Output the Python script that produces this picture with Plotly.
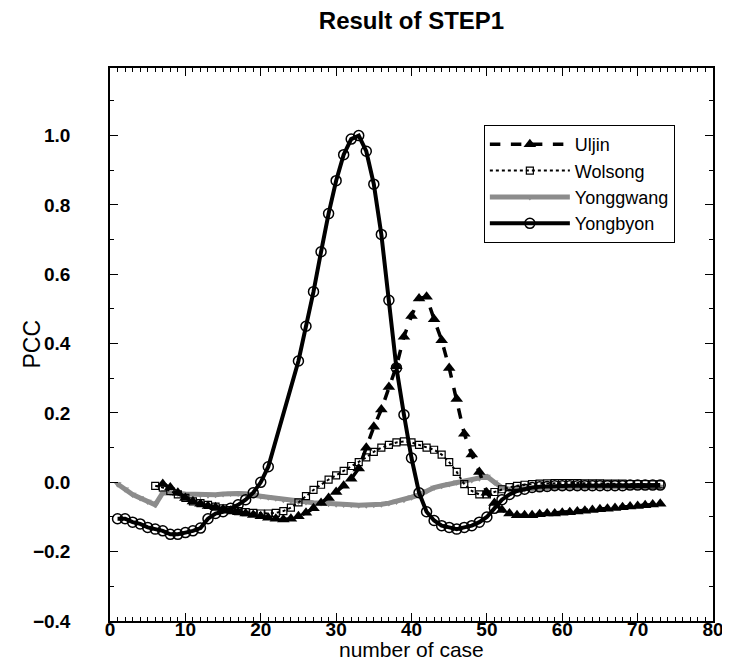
import plotly.graph_objects as go

# ---------------- data ----------------
uljin_x = list(range(7, 74))
uljin_y = [-0.005, -0.015, -0.03, -0.045, -0.055, -0.062, -0.068, -0.072, -0.078, -0.082,
           -0.086, -0.09, -0.094, -0.098, -0.102, -0.105, -0.107, -0.105, -0.098, -0.088,
           -0.075, -0.06, -0.045, -0.028, -0.01, 0.01, 0.04, 0.10, 0.16, 0.21,
           0.275, 0.335, 0.42, 0.48, 0.53, 0.535, 0.47, 0.41, 0.33, 0.24,
           0.14, 0.08, 0.03, -0.03, -0.06, -0.08, -0.09, -0.095, -0.095, -0.095,
           -0.092, -0.09, -0.09, -0.088, -0.086, -0.084, -0.082, -0.08, -0.078, -0.076,
           -0.074, -0.072, -0.07, -0.068, -0.066, -0.064, -0.062]

wolsong_x = list(range(6, 74))
wolsong_y = [-0.01, -0.015, -0.025, -0.035, -0.045, -0.055, -0.06, -0.065, -0.07, -0.075,
             -0.08, -0.083, -0.086, -0.088, -0.09, -0.09, -0.088, -0.083, -0.073, -0.058,
             -0.04, -0.022, -0.007, 0.008, 0.02, 0.033, 0.047, 0.058, 0.072, 0.088,
             0.10, 0.108, 0.115, 0.118, 0.115, 0.108, 0.10, 0.094, 0.08, 0.058,
             0.03, -0.005, -0.025, -0.035, -0.035, -0.028, -0.02, -0.014, -0.01, -0.007,
             -0.005, -0.004, -0.003, -0.002, -0.002, -0.002, -0.002, -0.003, -0.003, -0.003,
             -0.004, -0.004, -0.004, -0.005, -0.005, -0.005, -0.006, -0.006]

yonggwang_x = list(range(1, 74))
yonggwang_y = [-0.005, -0.02, -0.035, -0.045, -0.055, -0.065, -0.03, -0.03, -0.032, -0.034,
               -0.035, -0.036, -0.037, -0.036, -0.034, -0.032, -0.032, -0.033, -0.035, -0.04,
               -0.043, -0.046, -0.05, -0.052, -0.055, -0.057, -0.059, -0.06, -0.062, -0.063,
               -0.064, -0.065, -0.066, -0.066, -0.065, -0.063, -0.06, -0.055, -0.05, -0.043,
               -0.036, -0.025, -0.015, -0.01, -0.005, 0.0, 0.003, 0.007, 0.012, 0.017,
               0.0, -0.015, -0.02, -0.02, -0.02, -0.018, -0.017, -0.016, -0.015, -0.015,
               -0.014, -0.014, -0.014, -0.013, -0.013, -0.013, -0.012, -0.012, -0.012, -0.012,
               -0.012, -0.012, -0.012]

yongbyon_x = list(range(1, 22)) + list(range(25, 74))
yongbyon_y = [-0.105, -0.105, -0.115, -0.12, -0.13, -0.135, -0.14, -0.15, -0.15, -0.145,
              -0.14, -0.132, -0.105, -0.09, -0.085, -0.075, -0.065, -0.05, -0.03, 0.0,
              0.045,
              0.35, 0.45, 0.55, 0.665, 0.775, 0.87, 0.945, 0.99, 1.0, 0.955,
              0.86, 0.715, 0.525, 0.33, 0.195, 0.07,
              -0.03, -0.085, -0.11, -0.125, -0.13, -0.135, -0.13, -0.125, -0.115, -0.1,
              -0.075, -0.05, -0.035, -0.025, -0.02,
              -0.015, -0.013, -0.012, -0.01, -0.01, -0.01, -0.01, -0.01, -0.01, -0.01,
              -0.01, -0.01, -0.01, -0.008, -0.008, -0.008, -0.008, -0.008]

x_ticks = [0, 10, 20, 30, 40, 50, 60, 70, 80]
y_ticks = [-0.4, -0.2, 0.0, 0.2, 0.4, 0.6, 0.8, 1.0]

assert len(uljin_x) == len(uljin_y)
assert len(wolsong_x) == len(wolsong_y)
assert len(yonggwang_x) == len(yonggwang_y)
assert len(yongbyon_x) == len(yongbyon_y)

FONT = "Liberation Sans, Arial, Helvetica, sans-serif"

fig = go.Figure()

fig.add_trace(go.Scatter(
    x=yonggwang_x, y=yonggwang_y, name="Yonggwang", mode="lines+markers",
    line=dict(color="#8c8c8c", width=5),
    marker=dict(symbol="triangle-down", size=7, color="#8c8c8c"),
    legendrank=3))
fig.add_trace(go.Scatter(
    x=wolsong_x, y=wolsong_y, name="Wolsong", mode="lines+markers",
    line=dict(color="black", width=2, dash="dot"),
    marker=dict(symbol="square-open", size=7, color="black", line=dict(width=1.2)),
    legendrank=2))
fig.add_trace(go.Scatter(
    x=uljin_x, y=uljin_y, name="Uljin", mode="lines+markers",
    line=dict(color="black", width=3.5, dash="dash"),
    marker=dict(symbol="triangle-up", size=11, color="black"),
    legendrank=1))
fig.add_trace(go.Scatter(
    x=yongbyon_x, y=yongbyon_y, name="Yongbyon", mode="lines+markers",
    line=dict(color="black", width=4),
    marker=dict(symbol="circle-open", size=10, color="black", line=dict(width=1.5)),
    legendrank=4))

axis_common = dict(
    showline=True, linecolor="black", linewidth=1.5, mirror="allticks",
    ticks="inside", ticklen=8, tickwidth=1.2, tickcolor="black",
    showgrid=False, zeroline=False,
    tickfont=dict(family=FONT, size=19, color="black", weight="bold"),
)

fig.update_xaxes(
    range=[0, 80], tickmode="array", tickvals=x_ticks,
    ticktext=[str(v) for v in x_ticks],
    minor=dict(dtick=1, tick0=0, ticks="inside", ticklen=4, tickcolor="black", showgrid=False),
    ticklabelstandoff=-10,
    **axis_common)

fig.update_yaxes(
    range=[-0.4, 1.195], tickmode="array", tickvals=y_ticks,
    ticktext=[f"{v:.1f}".replace("-", "\u2212") for v in y_ticks],
    minor=dict(dtick=0.1, tick0=0, ticks="inside", ticklen=4, tickcolor="black", showgrid=False),
    ticklabelstandoff=34,
    **axis_common)

# the page body adds an 8 px offset; margins compensate so the plot lands at 110..713 x 68..621
fig.update_layout(
    width=730, height=663,
    margin=dict(l=102, r=25, t=60, b=50, autoexpand=False),
    paper_bgcolor="white", plot_bgcolor="white",
    title=dict(text="<b>Result of STEP1</b>", x=0.5, xref="paper", xanchor="center",
               y=1 - 13 / 663, yanchor="middle", yref="container",
               font=dict(family=FONT, size=24, color="black")),
    legend=dict(x=0.62, y=0.897, xanchor="left", yanchor="top",
                bordercolor="black", borderwidth=1, bgcolor="white",
                font=dict(family=FONT, size=18, color="black"),
                itemwidth=80, tracegroupgap=0),
    annotations=[
        dict(text="number of case", xref="paper", yref="paper",
             x=0.5, y=-0.0524, xanchor="center", yanchor="middle",
             showarrow=False, font=dict(family=FONT, size=21, color="black")),
        dict(text="PCC", xref="paper", yref="paper", textangle=-90,
             x=-0.131, y=0.5, xanchor="center", yanchor="middle",
             showarrow=False, font=dict(family=FONT, size=23, color="black")),
    ],
    showlegend=True,
)

fig.write_html("out.html")
